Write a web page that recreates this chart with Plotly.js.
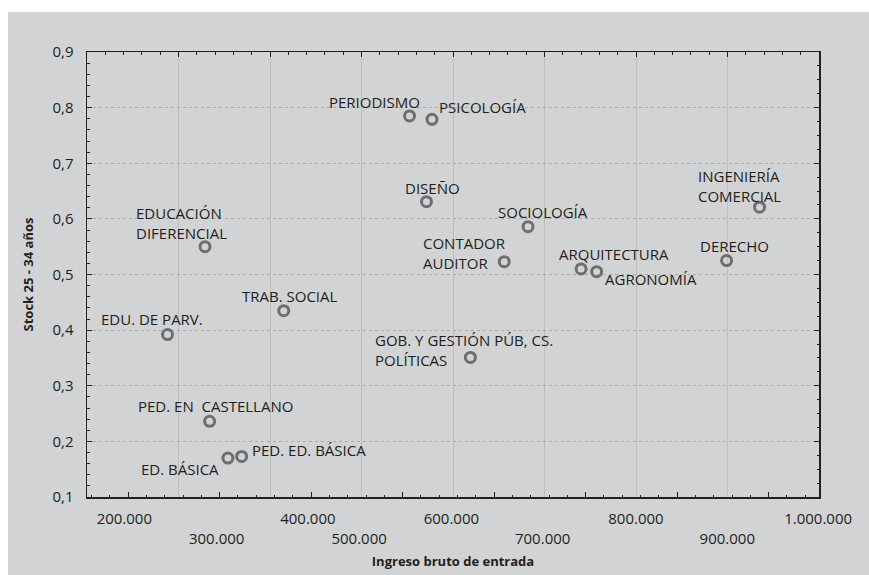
<!DOCTYPE html>
<html>
<head>
<meta charset="utf-8">
<script src="https://cdn.plot.ly/plotly-3.0.1.min.js"></script>
<style>html,body{margin:0;padding:0;background:#fff;}</style>
</head>
<body>
<div id="chart" style="width:869px;height:575px;"></div>
<script>
// ---- data ----
const carreras = [
  "PERIODISMO", "PSICOLOGÍA", "DISEÑO", "EDUCACIÓN<br>DIFERENCIAL", "TRAB. SOCIAL",
  "EDU. DE PARV.", "GOB. Y GESTIÓN PÚB, CS.<br>POLÍTICAS", "SOCIOLOGÍA", "CONTADOR<br>AUDITOR",
  "ARQUITECTURA", "AGRONOMÍA", "DERECHO", "INGENIERÍA<br>COMERCIAL",
  "PED. EN\u00a0 CASTELLANO", "ED. BÁSICA", "PED. ED. BÁSICA"
];
const ingreso = [552500, 577000, 571000, 329000, 415000, 288000, 619000, 682000, 656000,
                 740000, 757000, 899000, 935000, 334000, 354000, 369000];
const stock = [0.785, 0.779, 0.631, 0.550, 0.435, 0.392, 0.351, 0.586, 0.523,
               0.510, 0.505, 0.525, 0.621, 0.236, 0.170, 0.173];
const xTickLabels = ["200.000", "300.000", "400.000", "500.000", "600.000",
                     "700.000", "800.000", "900.000", "1.000.000"];

// ---- layout helpers (positions / styles) ----
const xTickLabelPos = [240800, 341700, 441400, 497400, 598200, 698000, 800000, 899800, 999000];
const labelPlacement = [
  {a:"center", dx:-35,  dy:14},
  {a:"center", dx:51,   dy:12.6},
  {a:"center", dx:6.5,  dy:13.4},
  {a:"left",   dx:-70.7,dy:23.7},
  {a:"center", dx:6.5,  dy:15},
  {a:"center", dx:-15.5,dy:15.4},
  {a:"left",   dx:-97.3,dy:7.3},
  {a:"center", dx:15,   dy:14.4},
  {a:"left",   dx:-83,  dy:8.9},
  {a:"center", dx:33,   dy:15},
  {a:"center", dx:54,   dy:-7.6},
  {a:"center", dx:8.3,  dy:14.3},
  {a:"left",   dx:-63.7,dy:21.3},
  {a:"center", dx:6,    dy:15.3},
  {a:"right",  dx:-6.6, dy:-10.6},
  {a:"left",   dx:8.3,  dy:6}
];

const ink = "#231f20";
const fontFam = '"Open Sans", "Noto Sans", sans-serif';

const trace = {
  type: "scatter",
  mode: "markers",
  x: ingreso,
  y: stock,
  text: carreras,
  hoverinfo: "text",
  marker: {symbol: "circle-open", size: 10, color: "#6d6e71", line: {width: 3, color: "#6d6e71"}},
  showlegend: false,
  xaxis: "x", yaxis: "y"
};

const annotations = carreras.map((name, i) => ({
  x: ingreso[i], y: stock[i], xref: "x", yref: "y",
  text: name, showarrow: false,
  xanchor: labelPlacement[i].a, yanchor: "middle", align: "left",
  xshift: labelPlacement[i].dx, yshift: labelPlacement[i].dy,
  font: {family: fontFam, size: 15, color: ink}
}));

const tickText = xTickLabels.map((t, i) => (i % 2 === 1 ? " <br>" + t : t));

const xRange = [200000, 1000000];
const yRange = [0.1, 0.9];

const layout = {
  width: 869, height: 575,
  margin: {l: 87, r: 50, t: 52, b: 78, pad: 0},
  paper_bgcolor: "#ffffff",
  plot_bgcolor: "#ffffff",
  separators: ",.",
  font: {family: fontFam, color: ink, size: 15},
  shapes: [{
    type: "rect", xref: "paper", yref: "paper", layer: "below",
    x0: -0.1079, x1: 1.2, y0: -0.3, y1: 1.0899,
    fillcolor: "#d1d3d4", line: {width: 0}
  }],
  // main x: vertical grid + frame
  xaxis: {
    side: "bottom", range: xRange, tickmode: "linear", tick0: 200000, dtick: 100000,
    showticklabels: false, ticks: "",
    showgrid: true, gridcolor: "#bcbec0", gridwidth: 1,
    showline: true, linecolor: ink, linewidth: 1.5, mirror: true,
    zeroline: false, anchor: "y"
  },
  // top ticks
  xaxis2: {
    overlaying: "x", side: "top", range: xRange, anchor: "y",
    tickmode: "linear", tick0: 200000, dtick: 100000, showticklabels: false,
    ticks: "inside", ticklen: 5, tickwidth: 1, tickcolor: ink,
    minor: {tick0: 200000, dtick: 20000, ticks: "inside", ticklen: 2.5, tickcolor: ink, showgrid: false},
    showgrid: false, showline: false, zeroline: false
  },
  // bottom ticks
  xaxis4: {
    overlaying: "x", side: "bottom", range: xRange, anchor: "y",
    tickmode: "linear", tick0: 245000, dtick: 100000, showticklabels: false,
    ticks: "inside", ticklen: 5, tickwidth: 1, tickcolor: ink,
    minor: {tick0: 205000, dtick: 20000, ticks: "inside", ticklen: 2.5, tickcolor: ink, showgrid: false},
    showgrid: false, showline: false, zeroline: false
  },
  // bottom labels (two rows)
  xaxis3: {
    overlaying: "x", side: "bottom", range: xRange, anchor: "y",
    tickmode: "array", tickvals: xTickLabelPos, ticktext: tickText, tickangle: 0,
    ticks: "", ticklabelstandoff: 11, tickfont: {family: fontFam, size: 15, color: ink},
    showgrid: false, showline: false, zeroline: false,
    title: {text: "Ingreso bruto de entrada", standoff: 10, font: {family: fontFam, size: 13, color: ink, weight: "bold"}}
  },
  yaxis: {
    range: yRange, tickmode: "linear", tick0: 0.1, dtick: 0.1, tickformat: ".1f",
    ticks: "inside", ticklen: 5, tickwidth: 1, tickcolor: ink,
    minor: {tick0: 0.1, dtick: 0.02, ticks: "inside", ticklen: 2.5, tickcolor: ink, showgrid: false},
    ticklabelstandoff: 9, tickfont: {family: fontFam, size: 15, color: ink},
    showgrid: true, gridcolor: "#a7a9ac", gridwidth: 1, griddash: "dot",
    showline: true, linecolor: ink, linewidth: 1.5, mirror: true, zeroline: false,
    title: {text: "Stock 25 - 34 años", standoff: 16, font: {family: fontFam, size: 13, color: ink, weight: "bold"}}
  },
  yaxis2: {
    overlaying: "y", side: "right", range: yRange, anchor: "x",
    tickmode: "linear", tick0: 0.1, dtick: 0.1, showticklabels: false,
    ticks: "inside", ticklen: 5, tickwidth: 1, tickcolor: ink,
    minor: {tick0: 0.1, dtick: 0.025, ticks: "inside", ticklen: 2.5, tickcolor: ink, showgrid: false},
    showgrid: false, showline: false, zeroline: false
  },
  annotations: annotations
};

const helpers = [
  {type: "scatter", x: [], y: [], xaxis: "x2", yaxis: "y", showlegend: false, hoverinfo: "skip"},
  {type: "scatter", x: [], y: [], xaxis: "x3", yaxis: "y", showlegend: false, hoverinfo: "skip"},
  {type: "scatter", x: [], y: [], xaxis: "x4", yaxis: "y", showlegend: false, hoverinfo: "skip"},
  {type: "scatter", x: [], y: [], xaxis: "x", yaxis: "y2", showlegend: false, hoverinfo: "skip"}
];

Plotly.newPlot("chart", [trace].concat(helpers), layout, {displayModeBar: false, staticPlot: true});
</script>
</body>
</html>
